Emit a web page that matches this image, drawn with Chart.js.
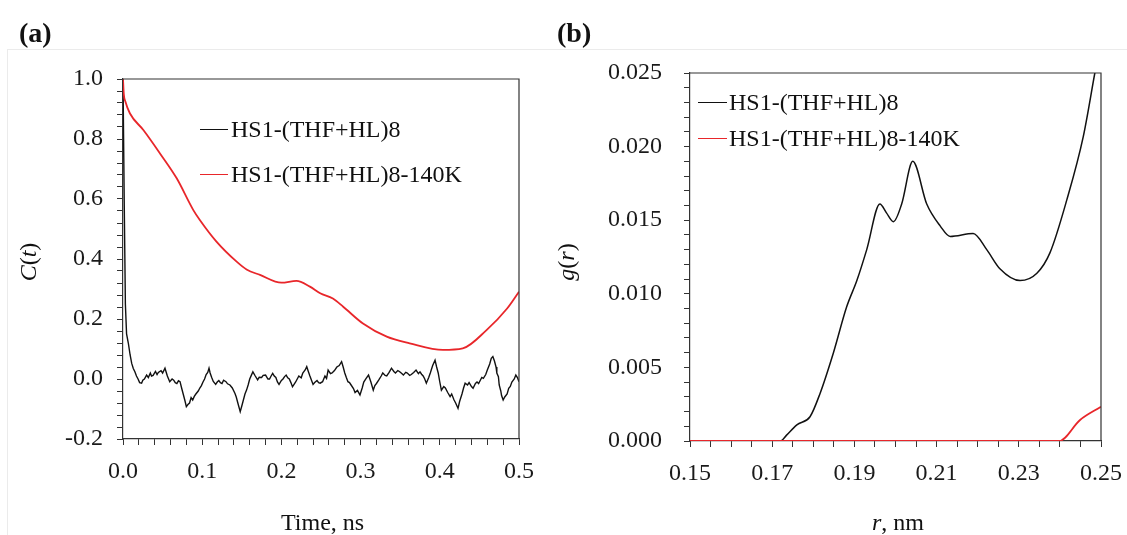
<!DOCTYPE html>
<html>
<head>
<meta charset="utf-8">
<script src="https://cdn.jsdelivr.net/npm/chart.js@4/dist/chart.umd.min.js"></script>
<style>
  html,body{margin:0;padding:0;background:#fff;}
  #wrap{position:relative;width:1127px;height:535px;overflow:hidden;font-family:"Liberation Serif","Times New Roman",serif;color:#111;}
  canvas{position:absolute;top:0;}
  .frame{position:absolute;left:7px;top:49px;width:1130px;height:500px;border:1px solid #ebebeb;box-sizing:border-box;}
  .txt{position:absolute;font-size:24px;line-height:28px;white-space:nowrap;}
  .panel{position:absolute;font-size:28px;font-weight:bold;line-height:32px;}
  .lg{position:absolute;height:0;border-top:1.6px solid #000;}
  .rot{position:absolute;transform:translate(-50%,-50%) rotate(-90deg);font-size:24px;line-height:28px;white-space:nowrap;}
</style>
</head>
<body>
<div id="wrap">
  <div class="frame"></div>
  <canvas id="ca" width="560" height="535" style="left:0;width:560px;height:535px;"></canvas>
  <canvas id="cb" width="620" height="535" style="left:560px;width:620px;height:535px;"></canvas>

  <div class="panel" style="left:19px;top:17px;">(a)</div>
  <div class="panel" style="left:557px;top:17px;">(b)</div>

  <div class="rot" style="left:28px;top:262px;"><i>C</i>(<i>t</i>)</div>
  <div class="rot" style="left:566px;top:262px;"><i>g</i>(<i>r</i>)</div>
  <div class="txt" style="left:281px;top:508px;">Time, ns</div>
  <div class="txt" style="left:872px;top:508px;"><i>r</i>, nm</div>

  <div class="lg" style="left:200px;top:129px;width:28px;border-color:#111;"></div>
  <div class="txt" style="left:231px;top:115px;">HS1-(THF+HL)8</div>
  <div class="lg" style="left:200px;top:174px;width:28px;border-color:#e8262a;"></div>
  <div class="txt" style="left:231px;top:160px;">HS1-(THF+HL)8-140K</div>

  <div class="lg" style="left:698px;top:102px;width:29px;border-color:#111;"></div>
  <div class="txt" style="left:729px;top:88px;">HS1-(THF+HL)8</div>
  <div class="lg" style="left:698px;top:138px;width:29px;border-color:#e8262a;"></div>
  <div class="txt" style="left:729px;top:124px;">HS1-(THF+HL)8-140K</div>
</div>
<script>
// ---------- Panel (a): C(t) ----------
const timeBlack = [0,0.0015,0.003,0.0045,0.0067,0.009,0.011,0.013,0.015,0.017,0.019,0.021,0.0235,0.025,0.027,0.0298,0.032,0.0345,0.036,0.038,0.041,0.043,0.0446,0.048,0.050,0.053,0.056,0.059,0.062,0.064,0.066,0.068,0.070,0.072,0.074,0.076,0.078,0.080,0.082,0.084,0.086,0.088,0.090,0.092,0.095,0.097,0.099,0.101,0.103,0.105,0.107,0.1086,0.110,0.112,0.114,0.117,0.119,0.121,0.123,0.125,0.127,0.130,0.132,0.135,0.138,0.1414,0.143,0.145,0.148,0.150,0.152,0.154,0.156,0.158,0.160,0.162,0.164,0.167,0.170,0.172,0.175,0.177,0.180,0.183,0.185,0.187,0.189,0.191,0.193,0.195,0.197,0.200,0.202,0.204,0.206,0.208,0.210,0.212,0.214,0.216,0.218,0.220,0.222,0.225,0.227,0.230,0.232,0.234,0.236,0.238,0.240,0.242,0.245,0.247,0.249,0.252,0.255,0.257,0.259,0.262,0.264,0.267,0.270,0.273,0.276,0.278,0.280,0.282,0.284,0.286,0.288,0.291,0.293,0.296,0.2992,0.302,0.304,0.307,0.310,0.313,0.316,0.318,0.320,0.323,0.326,0.328,0.331,0.333,0.336,0.339,0.342,0.344,0.347,0.349,0.352,0.354,0.357,0.359,0.362,0.364,0.367,0.370,0.373,0.375,0.377,0.379,0.381,0.383,0.386,0.388,0.391,0.394,0.396,0.398,0.400,0.402,0.405,0.407,0.410,0.413,0.415,0.418,0.420,0.423,0.425,0.428,0.430,0.432,0.435,0.437,0.440,0.442,0.445,0.447,0.449,0.451,0.453,0.455,0.458,0.460,0.463,0.465,0.467,0.469,0.471,0.472,0.474,0.475,0.477,0.478,0.480,0.482,0.485,0.487,0.489,0.491,0.494,0.496,0.498,0.500];
const cBlack = [1.0,0.6,0.25,0.15,0.12,0.08,0.052,0.035,0.024,0.01,0.0,-0.012,-0.014,-0.004,0.0,0.013,0.005,0.02,0.01,0.012,0.025,0.015,0.022,0.028,0.02,0.036,0.01,-0.009,0.0,-0.004,-0.012,-0.015,-0.006,-0.009,-0.03,-0.05,-0.07,-0.092,-0.085,-0.08,-0.062,-0.07,-0.058,-0.05,-0.04,-0.03,-0.022,-0.01,0.0,0.015,0.022,0.036,0.02,0.005,-0.008,-0.018,-0.01,-0.005,-0.012,-0.015,-0.004,-0.009,-0.016,-0.02,-0.03,-0.048,-0.06,-0.08,-0.109,-0.09,-0.07,-0.05,-0.037,-0.02,0.0,0.012,0.024,0.01,-0.003,0.006,0.005,0.012,0.013,0.0,0.0,0.01,0.019,0.01,0.005,-0.01,-0.018,-0.005,0.0,0.008,0.013,0.004,0.0,-0.012,-0.026,-0.018,-0.01,0.0,0.01,0.004,0.02,0.03,0.041,0.025,0.01,-0.004,-0.018,-0.012,-0.005,-0.012,-0.014,-0.009,0.01,0.002,0.03,0.018,0.02,0.028,0.04,0.045,0.058,0.04,0.02,0.005,-0.009,-0.012,-0.02,-0.032,-0.045,-0.038,-0.053,-0.03,-0.01,0.002,0.013,-0.01,-0.037,-0.022,-0.015,-0.003,0.01,0.02,0.012,0.01,0.022,0.036,0.025,0.02,0.028,0.025,0.018,0.013,0.022,0.02,0.012,0.015,0.022,0.03,0.018,0.024,0.016,0.01,0.0,-0.014,0.005,0.02,0.045,0.063,0.04,0.02,-0.01,-0.037,-0.025,-0.03,-0.045,-0.059,-0.05,-0.07,-0.08,-0.098,-0.075,-0.05,-0.03,-0.014,-0.02,-0.012,-0.025,-0.031,-0.015,-0.01,-0.015,-0.005,0.005,0.002,0.015,0.03,0.05,0.069,0.075,0.06,0.04,0.02,0.008,-0.02,-0.04,-0.055,-0.07,-0.06,-0.05,-0.031,-0.025,-0.01,0.0,0.013,0.005,-0.009];
const timeRed = [0,0.001,0.003,0.0088,0.0257,0.0467,0.0678,0.0888,0.097,0.118,0.1435,0.156,0.173,0.200,0.219,0.236,0.249,0.265,0.278,0.303,0.333,0.362,0.404,0.429,0.459,0.485,0.500];
const cRed = [1.0,0.95,0.925,0.885,0.83,0.752,0.669,0.563,0.53,0.458,0.391,0.365,0.347,0.321,0.327,0.308,0.286,0.268,0.241,0.185,0.141,0.119,0.097,0.102,0.163,0.235,0.291];

// ---------- Panel (b): g(r) ----------
const rBlack = [0.15,0.172,0.1735,0.176,0.1792,0.1816,0.1849,0.1881,0.1906,0.193,0.1962,0.1978,0.1995,0.2015,0.2042,0.2076,0.2109,0.2133,0.2189,0.2222,0.2254,0.2303,0.2344,0.2376,0.2417,0.2457,0.2485,0.2495];
const gBlack = [0,0,0.0004,0.0011,0.00165,0.0032,0.006,0.0091,0.0109,0.013,0.0161,0.0155,0.0149,0.0161,0.0190,0.0161,0.0146,0.0139,0.0141,0.013,0.0117,0.0109,0.0114,0.0128,0.0164,0.0207,0.025,0.0265];
const rRed = [0.15,0.2398,0.2449,0.25];
const gRed = [0,0,0.00143,0.00233];

const seriesNames = ["HS1-(THF+HL)8","HS1-(THF+HL)8-140K"];
const ticksA_x = [0.0,0.1,0.2,0.3,0.4,0.5];
const ticksA_y = [-0.2,0.0,0.2,0.4,0.6,0.8,1.0];
const ticksB_x = [0.15,0.17,0.19,0.21,0.23,0.25];
const ticksB_y = [0.000,0.005,0.010,0.015,0.020,0.025];

const BLACK = '#111111', RED = '#e8262a', AXIS = '#333333';
const pts = (xs, ys) => xs.map((x, i) => ({x, y: ys[i]}));
const isLabel = (v, list) => list.some(t => Math.abs(t - v) < 1e-7);

const framePlugin = {
  id: 'frame',
  afterDraw(chart) {
    const {ctx, chartArea: a} = chart;
    ctx.save();
    ctx.strokeStyle = AXIS; ctx.lineWidth = 1.2;
    ctx.beginPath();
    ctx.moveTo(a.left, a.top); ctx.lineTo(a.right, a.top); ctx.lineTo(a.right, a.bottom);
    ctx.stroke();
    ctx.restore();
  }
};

function axisCfg(min, max, step, labels, digits, pad) {
  return {
    type: 'linear', min, max,
    border: {display: true, color: AXIS, width: 1.2},
    grid: {display: true, drawOnChartArea: false, drawTicks: true, tickLength: 6, color: AXIS, tickWidth: 1},
    ticks: {
      stepSize: step, autoSkip: false, maxRotation: 0, padding: pad,
      color: '#1a1a1a', font: {family: '"Liberation Serif", "Times New Roman", serif', size: 24},
      callback: v => isLabel(v, labels) ? v.toFixed(digits) : ''
    }
  };
}

function makeChart(id, W, target, datasets, xCfg, yCfg) {
  const pad = {left: 0, top: target.top, right: W - target.right, bottom: 0};
  const chart = new Chart(document.getElementById(id), {
    type: 'line',
    data: {datasets},
    options: {
      responsive: false, animation: false, devicePixelRatio: 1,
      layout: {padding: pad},
      plugins: {legend: {display: false}, tooltip: {enabled: false}},
      elements: {point: {radius: 0}},
      scales: {x: xCfg, y: yCfg}
    },
    plugins: [framePlugin]
  });
  for (let k = 0; k < 4; k++) {
    const a = chart.chartArea;
    const p = chart.options.layout.padding;
    p.left += target.left - a.left;
    p.top += target.top - a.top;
    p.right += a.right - target.right;
    p.bottom += a.bottom - target.bottom;
    chart.update('none');
  }
  return chart;
}

makeChart('ca', 560, {left: 123, top: 79, right: 519, bottom: 439}, [
  {label: seriesNames[1], data: pts(timeRed, cRed), borderColor: RED, borderWidth: 1.8, order: 0, tension: 0.4, cubicInterpolationMode: 'monotone'},
  {label: seriesNames[0], data: pts(timeBlack, cBlack), borderColor: BLACK, borderWidth: 1.4, order: 1, tension: 0}
], axisCfg(0, 0.5, 0.02, ticksA_x, 1, 12), axisCfg(-0.2, 1.0, 0.04, ticksA_y, 1, 14));

makeChart('cb', 620, {left: 130, top: 73, right: 541, bottom: 441}, [
  {label: seriesNames[1], data: pts(rRed, gRed), borderColor: RED, borderWidth: 1.8, order: 0, tension: 0.4, cubicInterpolationMode: 'monotone'},
  {label: seriesNames[0], data: pts(rBlack, gBlack), borderColor: BLACK, borderWidth: 1.5, order: 1, tension: 0.4, cubicInterpolationMode: 'monotone'}
], axisCfg(0.15, 0.25, 0.005, ticksB_x, 2, 12), axisCfg(0, 0.025, 0.001, ticksB_y, 3, 22));
</script>
</body>
</html>
